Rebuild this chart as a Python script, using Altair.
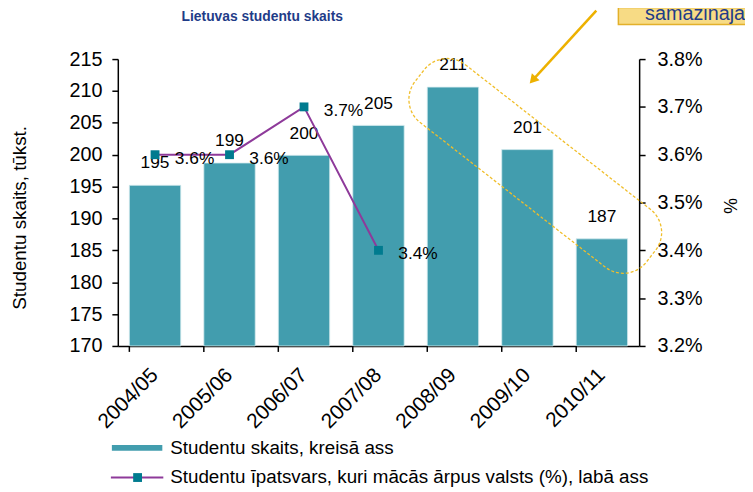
import altair as alt
import pandas as pd

# ---- data ----
years = ["2004/05", "2005/06", "2006/07", "2007/08", "2008/09", "2009/10", "2010/11"]
students = [195.2, 198.7, 199.9, 204.6, 210.6, 200.8, 186.8]
share_years = ["2004/05", "2005/06", "2006/07", "2007/08"]
share = [0.036, 0.036, 0.037, 0.034]

title_text = "Lietuvas studentu skaits"
left_title = "Studentu skaits, tūkst."
right_title = "%"
legend_bar = "Studentu skaits, kreisā ass"
legend_line = "Studentu īpatsvars, kuri mācās ārpus valsts (%), labā ass"
note_text = "samazinājās"

left_ticks = [170, 175, 180, 185, 190, 195, 200, 205, 210, 215]
right_ticks = [0.032, 0.033, 0.034, 0.035, 0.036, 0.037, 0.038]

W, H = 527, 290
BAR = "#429DAE"
LINE = "#8E3A9A"
MARK = "#007B8F"
GOLD = "#EDB100"

df_bar = pd.DataFrame({"year": years, "students": students})
df_line = pd.DataFrame({"year": share_years, "share": share})

xenc = alt.X(
    "year:N",
    sort=years,
    scale=alt.Scale(domain=years, paddingInner=0.31, paddingOuter=0.155),
    axis=alt.Axis(
        title=None, labelAngle=-45, labelAlign="right", labelBaseline="middle",
        labelFontSize=21, labelPadding=26, labelOverlap=False,
        domainColor="black", labelColor="black", domainWidth=1.5, ticks=False,
    ),
)
xplain = alt.X("year:N", sort=years)

yleft = alt.Y(
    "students:Q",
    scale=alt.Scale(domain=[170, 215], nice=False, zero=False),
    axis=alt.Axis(
        values=left_ticks, title=left_title, titleFontSize=19, titleFontWeight="normal",
        titleX=-99, titleY=160, titleAlign="center", titleBaseline="middle",
        grid=False, labelFontSize=20, tickSize=6, labelPadding=10, labelOverlap=False,
        labelFlush=False,
        domainColor="black", tickColor="black", labelColor="black", titleColor="black",
        domainWidth=1.5, tickWidth=1.5,
    ),
)

bars = alt.Chart(df_bar).mark_bar(color=BAR, stroke="#D4EBEF", strokeWidth=0.8).encode(
    x=xenc, y=yleft, y2=alt.datum(170)
)
bar_labels = alt.Chart(df_bar).mark_text(dy=-22, fontSize=17.5, color="black").encode(
    x=xplain, y=yleft,
    text=alt.Text("students:Q", format=".0f"),
)
left = alt.layer(bars, bar_labels)

yright = alt.Y(
    "share:Q",
    scale=alt.Scale(domain=[0.032, 0.038], nice=False, zero=False),
    axis=alt.Axis(
        orient="right", values=right_ticks, format=".1%", title=right_title,
        titleFontSize=18, titleFontWeight="normal", titleX=90, titleY=148,
        titleAlign="center", titleBaseline="middle",
        grid=False, labelFontSize=20, tickSize=6, labelPadding=12, labelOverlap=False,
        labelFlush=False,
        domainColor="black", tickColor="black", labelColor="black", titleColor="black",
        domainWidth=1.5, tickWidth=1.5,
    ),
)
line = alt.Chart(df_line).mark_line(color=LINE, strokeWidth=2).encode(
    x=xplain, y=yright
)
pts = alt.Chart(df_line).mark_point(shape="square", filled=True, size=80, color=MARK, opacity=1).encode(
    x=xplain, y=yright
)
line_labels = alt.Chart(df_line).mark_text(align="left", dx=20, dy=4, fontSize=17.5, color="black").encode(
    x=xplain, y=yright,
    text=alt.Text("share:Q", format=".1%"),
)
right = alt.layer(line, pts, line_labels)

one = pd.DataFrame({"k": [0]})

def txt(t):
    return pd.DataFrame({"t": [t]})

# tick marks between categories on the x axis (at band boundaries)
tick_df = pd.DataFrame({"year": years})
xticks = alt.Chart(tick_df).mark_tick(color="black", thickness=1.5, size=6, orient="vertical", opacity=1).encode(
    x=alt.X("year:N", sort=years, bandPosition=0), y=alt.value(H + 3)
)

title_mark = alt.Chart(txt(title_text)).mark_text(
    fontSize=14, fontWeight="bold", color="#1F3C88", align="center", baseline="middle",
).encode(x=alt.value(146), y=alt.value(-42), text="t:N")

# legend
leg_rect = alt.Chart(one).mark_rect(color=BAR).encode(
    x=alt.value(-6), x2=alt.value(45), y=alt.value(390), y2=alt.value(396)
)
leg_text1 = alt.Chart(txt(legend_bar)).mark_text(align="left", baseline="middle", fontSize=19, color="black").encode(
    x=alt.value(53), y=alt.value(393), text="t:N"
)
leg_rule = alt.Chart(one).mark_rule(color=LINE, strokeWidth=2).encode(
    x=alt.value(-7), x2=alt.value(46), y=alt.value(423)
)
leg_pt = alt.Chart(one).mark_point(shape="square", filled=True, size=80, color=MARK, opacity=1).encode(
    x=alt.value(20), y=alt.value(423)
)
leg_text2 = alt.Chart(txt(legend_line)).mark_text(align="left", baseline="middle", fontSize=19, color="black").encode(
    x=alt.value(53), y=alt.value(423), text="t:N"
)

# annotation
note_box = alt.Chart(one).mark_rect(fill="#F7DB85", stroke="#E3B02A", strokeWidth=1.5).encode(
    x=alt.value(506), x2=alt.value(640), y=alt.value(-52), y2=alt.value(-35)
)
note_txt = alt.Chart(txt(note_text)).mark_text(align="left", baseline="alphabetic", fontSize=20, color="#1F3C88").encode(
    x=alt.value(533), y=alt.value(-40), text="t:N"
)
arrow = alt.Chart(one).mark_rule(color=GOLD, strokeWidth=2.5).encode(
    x=alt.value(483.7), x2=alt.value(419.4), y=alt.value(-49), y2=alt.value(21.3)
)
arrow_head = alt.Chart(one).mark_point(shape="triangle-up", filled=True, size=110, color=GOLD, opacity=1, angle=222).encode(
    x=alt.value(419.4), y=alt.value(21.3)
)
ring_path = ("M -0.8 -0.25 L 0.8 -0.25 A 0.2 0.2 0 0 1 1 -0.05 L 1 0.05 A 0.2 0.2 0 0 1 0.8 0.25 "
             "L -0.8 0.25 A 0.2 0.2 0 0 1 -1 0.05 L -1 -0.05 A 0.2 0.2 0 0 1 -0.8 -0.25 Z")
ring = alt.Chart(one).mark_point(
    shape=ring_path, filled=False, stroke="#F0BE2A", strokeWidth=1.3, strokeDash=[3, 2],
    size=88000, angle=38, opacity=1,
).encode(x=alt.value(422), y=alt.value(108))

chart = alt.layer(
    left, right, xticks, ring, title_mark, leg_rect, leg_text1, leg_rule, leg_pt, leg_text2,
    note_box, note_txt, arrow, arrow_head,
).resolve_scale(y="independent").properties(
    width=W, height=H,
    autosize=alt.AutoSizeParams(type="none"),
    padding={"left": 111, "top": 49, "right": 107, "bottom": 145},
).configure(font="Liberation Sans").configure_view(stroke=None)

chart.save("out.html", embed_options={"renderer": "svg", "actions": False})
